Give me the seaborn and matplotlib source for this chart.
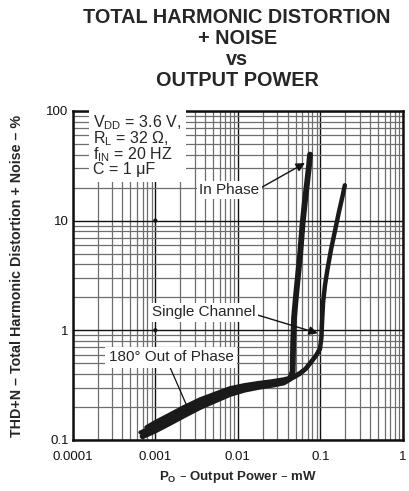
import numpy as np
import pandas as pd
import matplotlib
matplotlib.use("Agg")
import matplotlib.pyplot as plt
from matplotlib.ticker import LogLocator, FixedLocator, FixedFormatter, NullFormatter
import seaborn as sns

# Output power (mW) and THD+N (%) for each drive configuration
in_phase_x = [0.00070, 0.0010, 0.0015, 0.0022, 0.0035, 0.0055, 0.008, 0.012, 0.018, 0.026, 0.036, 0.043,
              0.0462, 0.0468, 0.048, 0.0505, 0.053, 0.057, 0.061, 0.065, 0.069, 0.073, 0.075]
in_phase_y = [0.108, 0.122, 0.143, 0.167, 0.200, 0.232, 0.262, 0.287, 0.305, 0.318, 0.334, 0.362,
              0.42, 0.75, 1.3, 2.0, 2.9, 5.0, 9.5, 15.0, 22.0, 32.0, 40.0]

single_x = [0.00078, 0.0010, 0.0015, 0.0022, 0.0035, 0.0055, 0.008, 0.012, 0.018, 0.026, 0.036, 0.046,
            0.056, 0.066, 0.078, 0.090, 0.099, 0.103, 0.105, 0.108, 0.114, 0.122, 0.135, 0.150, 0.168, 0.185, 0.198]
single_y = [0.130, 0.145, 0.170, 0.198, 0.234, 0.266, 0.295, 0.315, 0.330, 0.342, 0.356, 0.372,
            0.405, 0.445, 0.52, 0.60, 0.68, 0.85, 1.2, 1.8, 2.6, 3.6, 5.5, 8.0, 12.0, 16.5, 21.0]

out_phase_x = [0.00066, 0.0010, 0.0015, 0.0022, 0.0035, 0.0055, 0.008, 0.012, 0.018, 0.026, 0.036, 0.046,
               0.056, 0.066, 0.078, 0.090, 0.099]
out_phase_y = [0.117, 0.134, 0.158, 0.184, 0.218, 0.250, 0.280, 0.302, 0.318, 0.331, 0.346, 0.366,
               0.398, 0.440, 0.515, 0.595, 0.675]

# small dots on the grid
dot_x = [0.001, 0.001]
dot_y = [10, 1]

x_ticks = [0.0001, 0.001, 0.01, 0.1, 1]
x_tick_labels = ["0.0001", "0.001", "0.01", "0.1", "1"]
y_ticks = [0.1, 1, 10, 100]
y_tick_labels = ["0.1", "1", "10", "100"]

df = pd.concat([
    pd.DataFrame({"power": in_phase_x, "thd": in_phase_y, "mode": "In Phase"}),
    pd.DataFrame({"power": single_x, "thd": single_y, "mode": "Single Channel"}),
    pd.DataFrame({"power": out_phase_x, "thd": out_phase_y, "mode": "180° Out of Phase"}),
], ignore_index=True)

sns.set_style("white")
plt.rcParams["font.family"] = ["Liberation Sans", "DejaVu Sans"]

fig = plt.figure(figsize=(4.09, 4.91), dpi=100)
ax = fig.add_axes([0.178, 0.104, 0.807, 0.670])
ax.set_xscale("log")
ax.set_yscale("log")
ax.set_xlim(0.0001, 1)
ax.set_ylim(0.1, 100)

# log grid: major decades dark, intermediate lines grey
ax.xaxis.set_minor_locator(LogLocator(base=10, subs=np.arange(2, 10)))
ax.yaxis.set_minor_locator(LogLocator(base=10, subs=np.arange(2, 10)))
ax.xaxis.set_minor_formatter(NullFormatter())
ax.yaxis.set_minor_formatter(NullFormatter())
ax.grid(True, which="minor", color="#6e6e6e", lw=0.9, zorder=0)
ax.grid(True, which="major", color="#111111", lw=1.0, zorder=0)
ax.set_axisbelow(True)

widths = {"In Phase": 4.2, "Single Channel": 3.2, "180° Out of Phase": 3.0}
for mode, sub in df.groupby("mode", sort=False):
    sns.lineplot(data=sub, x="power", y="thd", sort=False, estimator=None,
                 color="#1a1a1a", lw=widths[mode], ax=ax, legend=False,
                 solid_capstyle="round", solid_joinstyle="round", zorder=3)

sns.scatterplot(x=dot_x, y=dot_y, s=9, color="#111111", edgecolor="none", ax=ax, zorder=3)

ax.xaxis.set_major_locator(FixedLocator(x_ticks))
ax.xaxis.set_major_formatter(FixedFormatter(x_tick_labels))
ax.yaxis.set_major_locator(FixedLocator(y_ticks))
ax.yaxis.set_major_formatter(FixedFormatter(y_tick_labels))
ax.tick_params(axis="both", which="both", length=0, labelsize=9.5, colors="#111111")
ax.tick_params(axis="x", pad=8)
ax.tick_params(axis="y", pad=3)

for s in ax.spines.values():
    s.set_linewidth(1.8)
    s.set_color("#111111")

ax.set_xlabel("P$_\\mathregular{O}$ – Output Power – mW", fontsize=9.5, fontweight="bold", labelpad=4)
ax.set_ylabel("THD+N – Total Harmonic Distortion + Noise – %", fontsize=10.3, fontweight="bold", labelpad=16)

fig.text(0.58, 0.984, "TOTAL HARMONIC DISTORTION\n+ NOISE\nvs\nOUTPUT POWER",
         ha="center", va="top", fontsize=14.3, fontweight="bold", linespacing=1.13)

# test-condition block
ax.text(0.000178, 95, "V$_\\mathregular{DD}$ = 3.6 V,\nR$_\\mathregular{L}$ = 32 Ω,\nf$_\\mathregular{IN}$ = 20 HZ\nC = 1 μF",
        ha="left", va="top", fontsize=11.5, linespacing=0.82, zorder=5,
        bbox=dict(boxstyle="square,pad=0.3", fc="white", ec="none"))

box = dict(boxstyle="square,pad=0.15", fc="white", ec="none")
ax.annotate("In Phase", xy=(0.065, 33.5), xytext=(0.0034, 19.0), fontsize=11,
            ha="left", va="center", bbox=box, zorder=6,
            arrowprops=dict(arrowstyle="-|>", color="#111111", lw=1.0, mutation_scale=13,
                            shrinkA=0, shrinkB=0, relpos=(1.0, 0.6)))
ax.annotate("Single Channel", xy=(0.093, 0.94), xytext=(0.00091, 1.46), fontsize=11,
            ha="left", va="center", bbox=box, zorder=6,
            arrowprops=dict(arrowstyle="-|>", color="#111111", lw=1.0, mutation_scale=13,
                            shrinkA=0, shrinkB=0, relpos=(1.0, 0.35)))
ax.annotate("180° Out of Phase", xy=(0.0024, 0.206), xytext=(0.000273, 0.566), fontsize=11,
            ha="left", va="center", bbox=dict(boxstyle="square,pad=0.25", fc="white", ec="none"),
            zorder=6,
            arrowprops=dict(arrowstyle="-", color="#111111", lw=0.9,
                            shrinkA=0, shrinkB=0, relpos=(0.48, 0.0)))

fig.savefig("out.png", dpi=100)
